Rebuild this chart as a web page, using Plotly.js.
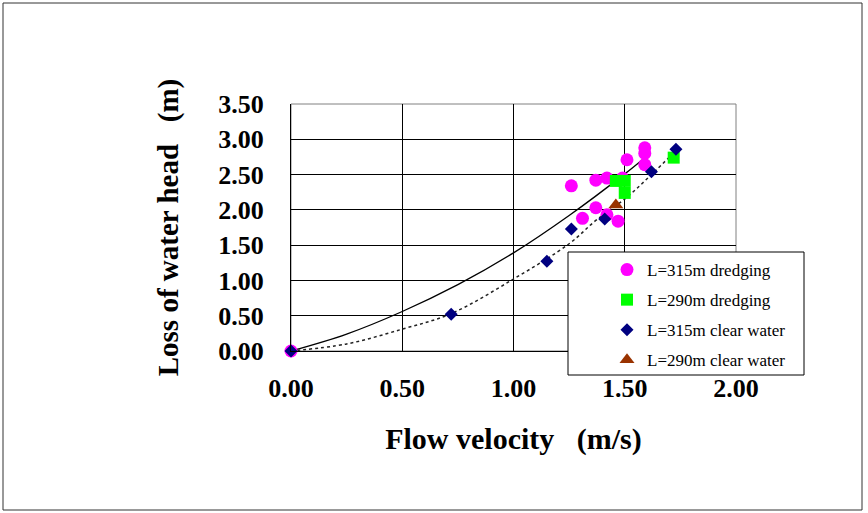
<!DOCTYPE html>
<html>
<head>
<meta charset="utf-8">
<script src="https://cdn.plot.ly/plotly-3.0.1.min.js"></script>
<style>
html,body{margin:0;padding:0;background:#fff;}
#chart{width:868px;height:513px;}
</style>
</head>
<body>
<div id="chart"></div>
<script>
// ---- data ----
const seriesNames = ['L=315m dredging', 'L=290m dredging', 'L=315m clear water', 'L=290m clear water'];

const dredge315X = [0, 1.26, 1.31, 1.37, 1.37, 1.42, 1.42, 1.47, 1.49, 1.51, 1.59, 1.59, 1.59];
const dredge315Y = [0, 2.34, 1.88, 2.03, 2.42, 2.45, 1.93, 1.84, 2.45, 2.71, 2.88, 2.80, 2.64];

const dredge290X = [1.46, 1.50, 1.50, 1.72];
const dredge290Y = [2.41, 2.41, 2.24, 2.74];

const clear315X = [0, 0.72, 1.15, 1.26, 1.41, 1.62, 1.73];
const clear315Y = [0, 0.52, 1.27, 1.73, 1.87, 2.54, 2.86];

const clear290X = [1.46];
const clear290Y = [2.07];

// trend lines
const trendDredgeX = [0, 0.25, 0.5, 0.75, 1.0, 1.25, 1.5, 1.59];
const trendDredgeY = [0, 0.24, 0.56, 0.94, 1.39, 1.92, 2.51, 2.74];

const trendClearX = [0, 0.25, 0.5, 0.72, 1.0, 1.25, 1.37, 1.51, 1.62, 1.73];
const trendClearY = [0, 0.10, 0.31, 0.53, 1.02, 1.52, 1.85, 2.18, 2.50, 2.84];

const xTickVals = [0, 0.5, 1.0, 1.5, 2.0];
const yTickVals = [0, 0.5, 1.0, 1.5, 2.0, 2.5, 3.0, 3.5];

const xTitle = 'Flow velocity\u00a0\u00a0\u00a0(m/s)';
const yTitle = 'Loss of water head\u00a0\u00a0\u00a0(m)\u00a0\u00a0';

// ---- chart ----
const serif = '"Liberation Serif", "Times New Roman", serif';

const traces = [
  {x: trendDredgeX, y: trendDredgeY, mode: 'lines', line: {color: '#000', width: 1.3, shape: 'spline'}, showlegend: false, hoverinfo: 'skip'},
  {x: trendClearX, y: trendClearY, mode: 'lines', line: {color: '#222', width: 1.5, dash: 'dot', shape: 'spline'}, showlegend: false, hoverinfo: 'skip'},
  {x: dredge315X, y: dredge315Y, name: seriesNames[0], legendgroup: 'a', mode: 'markers', cliponaxis: false,
   marker: {symbol: 'circle', size: 13, color: '#FF00FF'}},
  {x: dredge290X, y: dredge290Y, name: seriesNames[1], legendgroup: 'b', mode: 'markers', cliponaxis: false,
   marker: {symbol: 'square', size: 12, color: '#00FF00'}},
  {x: clear315X, y: clear315Y, name: seriesNames[2], legendgroup: 'c', mode: 'markers', cliponaxis: false,
   marker: {symbol: 'diamond', size: 10, color: '#000080'}},
  {x: clear290X, y: clear290Y, name: seriesNames[3], legendgroup: 'd', mode: 'markers', cliponaxis: false,
   marker: {symbol: 'triangle-up', size: 13, color: '#993300'}}
];

const L = 291, R = 132, T = 104, B = 162;
const PW = 868 - L - R, PH = 513 - T - B;
function px(x){ return (x - L) / PW; }
function py(y){ return (513 - B - y) / PH; }

const layout = {
  width: 868, height: 513,
  margin: {l: L, r: R, t: T, b: B},
  paper_bgcolor: '#fff', plot_bgcolor: '#fff',
  showlegend: true,
  font: {family: serif, color: '#000'},
  xaxis: {
    range: [0, 2], tickvals: xTickVals, tickformat: '.2f',
    showgrid: true, gridcolor: '#000', gridwidth: 1,
    showline: true, linecolor: '#000', linewidth: 1, zeroline: false,
    ticks: '', ticklabelstandoff: 14,
    tickfont: {family: serif, size: 26, weight: 700, color: '#000'},
    title: {text: xTitle, font: {family: serif, size: 30, weight: 700, color: '#000'}, standoff: 25}
  },
  yaxis: {
    range: [0, 3.5], tickvals: yTickVals, tickformat: '.2f',
    showgrid: true, gridcolor: '#000', gridwidth: 1,
    showline: true, linecolor: '#000', linewidth: 1, zeroline: false,
    ticks: '', ticklabelstandoff: 21,
    tickfont: {family: serif, size: 26, weight: 700, color: '#000'},
    title: {text: yTitle, font: {family: serif, size: 29, weight: 700, color: '#000'}, standoff: 31}
  },
  legend: {
    x: px(607), y: py(252), xanchor: 'left', yanchor: 'top',
    bgcolor: 'rgba(0,0,0,0)', borderwidth: 0,
    traceorder: 'grouped', tracegroupgap: 5,
    font: {family: serif, size: 17, color: '#000'}
  },
  shapes: [
    {type: 'rect', xref: 'paper', yref: 'paper', x0: px(3), x1: px(862), y0: py(510), y1: py(3),
     line: {color: '#333', width: 1}, fillcolor: 'rgba(0,0,0,0)', layer: 'below'},
    {type: 'rect', xref: 'paper', yref: 'paper', x0: 0, x1: 1, y0: 0, y1: 1,
     line: {color: '#808080', width: 1}, fillcolor: 'rgba(0,0,0,0)', layer: 'below'},
    {type: 'rect', xref: 'paper', yref: 'paper', x0: px(568), x1: px(804), y0: py(375), y1: py(252),
     line: {color: '#000', width: 1}, fillcolor: '#fff', layer: 'above'}
  ]
};

Plotly.newPlot('chart', traces, layout, {displayModeBar: false, staticPlot: true});
</script>
</body>
</html>
